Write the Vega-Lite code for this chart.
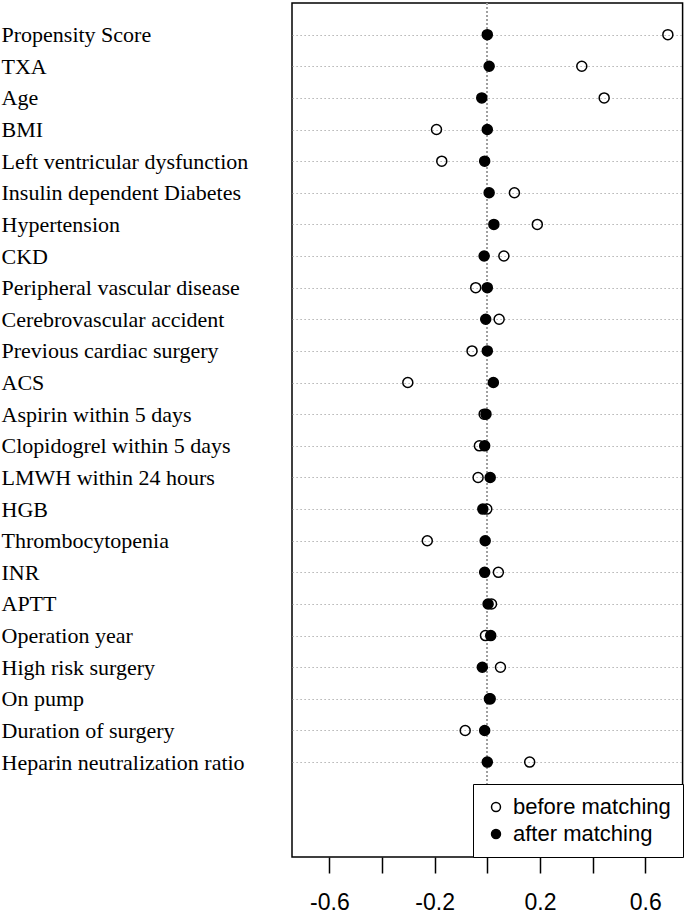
{
  "$schema": "https://vega.github.io/schema/vega-lite/v6.json",
  "autosize": "none",
  "width": 390.6,
  "height": 854,
  "padding": {"left": 292, "top": 3, "right": 2.4, "bottom": 56},
  "background": "white",
  "config": {
    "view": {"stroke": "black", "strokeWidth": 1.5},
    "font": "Liberation Sans"
  },
  "data": {
    "values": [
      {"variable": "Propensity Score", "row": 1, "status": "before matching", "smd": 0.686},
      {"variable": "TXA", "row": 2, "status": "before matching", "smd": 0.359},
      {"variable": "Age", "row": 3, "status": "before matching", "smd": 0.444},
      {"variable": "BMI", "row": 4, "status": "before matching", "smd": -0.193},
      {"variable": "Left ventricular dysfunction", "row": 5, "status": "before matching", "smd": -0.173},
      {"variable": "Insulin dependent Diabetes", "row": 6, "status": "before matching", "smd": 0.103},
      {"variable": "Hypertension", "row": 7, "status": "before matching", "smd": 0.19},
      {"variable": "CKD", "row": 8, "status": "before matching", "smd": 0.063},
      {"variable": "Peripheral vascular disease", "row": 9, "status": "before matching", "smd": -0.044},
      {"variable": "Cerebrovascular accident", "row": 10, "status": "before matching", "smd": 0.045},
      {"variable": "Previous cardiac surgery", "row": 11, "status": "before matching", "smd": -0.058},
      {"variable": "ACS", "row": 12, "status": "before matching", "smd": -0.302},
      {"variable": "Aspirin within 5 days", "row": 13, "status": "before matching", "smd": -0.012},
      {"variable": "Clopidogrel within 5 days", "row": 14, "status": "before matching", "smd": -0.03},
      {"variable": "LMWH within 24 hours", "row": 15, "status": "before matching", "smd": -0.035},
      {"variable": "HGB", "row": 16, "status": "before matching", "smd": -0.002},
      {"variable": "Thrombocytopenia", "row": 17, "status": "before matching", "smd": -0.228},
      {"variable": "INR", "row": 18, "status": "before matching", "smd": 0.042},
      {"variable": "APTT", "row": 19, "status": "before matching", "smd": 0.016},
      {"variable": "Operation year", "row": 20, "status": "before matching", "smd": -0.007},
      {"variable": "High risk surgery", "row": 21, "status": "before matching", "smd": 0.05},
      {"variable": "On pump", "row": 22, "status": "before matching", "smd": 0.011},
      {"variable": "Duration of surgery", "row": 23, "status": "before matching", "smd": -0.084},
      {"variable": "Heparin neutralization ratio", "row": 24, "status": "before matching", "smd": 0.161},
      {"variable": "Propensity Score", "row": 1, "status": "after matching", "smd": 0.0},
      {"variable": "TXA", "row": 2, "status": "after matching", "smd": 0.007},
      {"variable": "Age", "row": 3, "status": "after matching", "smd": -0.021},
      {"variable": "BMI", "row": 4, "status": "after matching", "smd": 0.0},
      {"variable": "Left ventricular dysfunction", "row": 5, "status": "after matching", "smd": -0.01},
      {"variable": "Insulin dependent Diabetes", "row": 6, "status": "after matching", "smd": 0.007},
      {"variable": "Hypertension", "row": 7, "status": "after matching", "smd": 0.025},
      {"variable": "CKD", "row": 8, "status": "after matching", "smd": -0.012},
      {"variable": "Peripheral vascular disease", "row": 9, "status": "after matching", "smd": 0.0},
      {"variable": "Cerebrovascular accident", "row": 10, "status": "after matching", "smd": -0.006},
      {"variable": "Previous cardiac surgery", "row": 11, "status": "after matching", "smd": 0.0},
      {"variable": "ACS", "row": 12, "status": "after matching", "smd": 0.023},
      {"variable": "Aspirin within 5 days", "row": 13, "status": "after matching", "smd": -0.005},
      {"variable": "Clopidogrel within 5 days", "row": 14, "status": "after matching", "smd": -0.01},
      {"variable": "LMWH within 24 hours", "row": 15, "status": "after matching", "smd": 0.011},
      {"variable": "HGB", "row": 16, "status": "after matching", "smd": -0.017},
      {"variable": "Thrombocytopenia", "row": 17, "status": "after matching", "smd": -0.008},
      {"variable": "INR", "row": 18, "status": "after matching", "smd": -0.01},
      {"variable": "APTT", "row": 19, "status": "after matching", "smd": 0.003},
      {"variable": "Operation year", "row": 20, "status": "after matching", "smd": 0.013},
      {"variable": "High risk surgery", "row": 21, "status": "after matching", "smd": -0.019},
      {"variable": "On pump", "row": 22, "status": "after matching", "smd": 0.008},
      {"variable": "Duration of surgery", "row": 23, "status": "after matching", "smd": -0.01},
      {"variable": "Heparin neutralization ratio", "row": 24, "status": "after matching", "smd": 0.0}
    ]
  },
  "layer": [
    {
      "mark": {"type": "rule", "color": "#a0a0a0", "strokeDash": [1.2, 2.8], "strokeWidth": 1.2},
      "encoding": {"x": {"datum": 0}}
    },
    {
      "mark": {"type": "point", "shape": "circle", "filled": false, "stroke": "black", "strokeWidth": 1.5, "size": 100, "opacity": 1},
      "encoding": {
        "x": {
          "field": "smd",
          "type": "quantitative",
          "scale": {"domain": [-0.742, 0.742], "nice": false, "zero": false},
          "axis": {
            "title": null,
            "values": [-0.6, -0.4, -0.2, 0, 0.2, 0.4, 0.6],
            "labelExpr": "abs(round(datum.value*10)) % 4 == 2 ? (datum.value < 0 ? '-' : '') + format(abs(datum.value), '.1f') : ''",
            "domain": false,
            "grid": false,
            "ticks": true,
            "tickSize": 16,
            "tickWidth": 1.5,
            "tickColor": "black",
            "labelFont": "Liberation Sans",
            "labelFontSize": 23,
            "labelColor": "black",
            "labelPadding": 18,
            "labelOverlap": false,
            "labelBound": false,
            "labelFlush": false
          }
        },
        "y": {
          "field": "row",
          "type": "quantitative",
          "scale": {"domain": [0, 27], "nice": false, "zero": false, "reverse": true},
          "axis": {
            "title": null,
            "values": [1, 2, 3, 4, 5, 6, 7, 8, 9, 10, 11, 12, 13, 14, 15, 16, 17, 18, 19, 20, 21, 22, 23, 24],
            "labelExpr": "['Propensity Score','TXA','Age','BMI','Left ventricular dysfunction','Insulin dependent Diabetes','Hypertension','CKD','Peripheral vascular disease','Cerebrovascular accident','Previous cardiac surgery','ACS','Aspirin within 5 days','Clopidogrel within 5 days','LMWH within 24 hours','HGB','Thrombocytopenia','INR','APTT','Operation year','High risk surgery','On pump','Duration of surgery','Heparin neutralization ratio'][datum.value - 1]",
            "domain": false,
            "ticks": false,
            "grid": true,
            "gridColor": "#a0a0a0",
            "gridDash": [1.2, 2.8],
            "gridWidth": 1.2,
            "labelAlign": "left",
            "labelBaseline": "middle",
            "labelPadding": 291,
            "labelFont": "Liberation Serif",
            "labelFontSize": 22,
            "labelColor": "black",
            "labelLimit": 0,
            "labelOverlap": false,
            "labelBound": false
          }
        },
        "fill": {
          "field": "status",
          "type": "nominal",
          "scale": {"domain": ["before matching", "after matching"], "range": ["transparent", "black"]},
          "legend": {
            "title": null,
            "orient": "bottom-right",
            "offset": 0,
            "fillColor": "white",
            "strokeColor": "black",
            "padding": 12,
            "symbolType": "circle",
            "symbolSize": 80,
            "symbolStrokeColor": "black",
            "symbolStrokeWidth": 1.5,
            "labelFont": "Liberation Sans",
            "labelFontSize": 22,
            "labelColor": "black",
            "labelOffset": 6,
            "rowPadding": 5
          }
        }
      }
    }
  ]
}
